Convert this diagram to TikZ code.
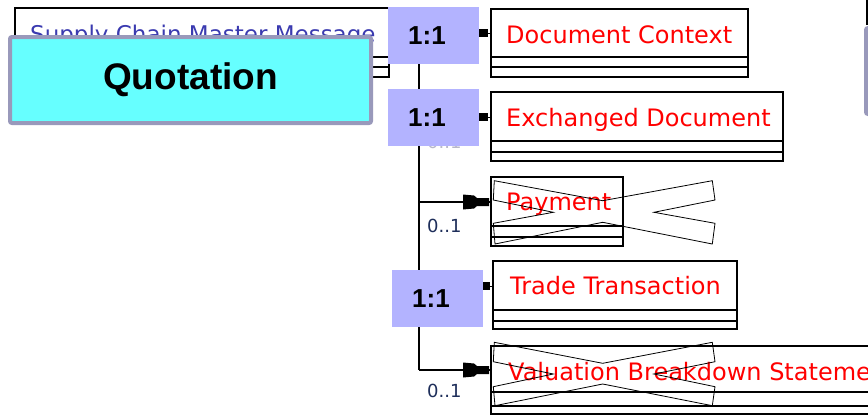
\documentclass[tikz,border=0pt]{standalone}
\usepackage{fontspec}
\newfontfamily\umlfont{DejaVu Sans}
\newfontfamily\arfont{Liberation Sans}
\definecolor{qcyan}{HTML}{66FFFF}
\definecolor{qborder}{HTML}{9999BB}
\definecolor{ratio}{HTML}{B3B3FF}
\definecolor{navyt}{HTML}{3A3AB0}
\definecolor{multc}{HTML}{1E2E5A}
\definecolor{qgreen}{HTML}{92D050}
\definecolor{fadet}{HTML}{B8B8C8}
\begin{document}
\begin{tikzpicture}[x=1pt,y=-1pt,
  cls/.style={draw=black, line width=1.8pt, fill=white, anchor=north west, inner sep=0pt, outer sep=0pt},
  clstext/.style={anchor=base west, inner sep=0pt, font=\umlfont\fontsize{24}{28}\selectfont, text=red},
  ratiobox/.style={fill=ratio, anchor=north west, inner ysep=0pt, inner xsep=20pt, text width=51pt, align=left, minimum height=57pt, font=\arfont\bfseries\fontsize{26}{30}\selectfont},
  multlab/.style={anchor=base west, inner sep=0pt, font=\umlfont\fontsize{18}{20}\selectfont, text=multc},
  wire/.style={line width=2pt},
  xmark/.style={draw=black, line width=0.8pt},
  stubtip/.style={fill=black},
  comp/.style={line width=1.8pt}]
\useasboundingbox (0,0) rectangle (868,415);
\clip (0,0) rectangle (868,415);

% right-hand clipped elements
\draw[line width=1.5pt] (867,-2) -- (867,25);
\node[draw=qborder, line width=4pt, fill=qgreen, rounded corners=2pt, anchor=north west, minimum width=60pt, minimum height=86pt, inner sep=0pt] (qr) at (864,26) {};

% Supply Chain Master Message class
\node[cls, minimum width=374pt, minimum height=69pt] (scmm) at (15,8) {};
\draw[comp] ([yshift=20pt]scmm.south west) -- ([yshift=20pt]scmm.south east);
\draw[comp] ([yshift=10pt]scmm.south west) -- ([yshift=10pt]scmm.south east);
\node[clstext, text=navyt, font=\umlfont\fontsize{23}{27}\selectfont] (scmmt) at (30,42.5) {Supply Chain Master Message};

% child classes
\node[cls, minimum width=257pt, minimum height=68pt] (dc) at (491,9) {};
\draw[comp] ([yshift=20pt]dc.south west) -- ([yshift=20pt]dc.south east);
\draw[comp] ([yshift=10pt]dc.south west) -- ([yshift=10pt]dc.south east);
\node[clstext] (dct) at (506,43) {Document Context};

\node[cls, minimum width=292pt, minimum height=69pt] (ed) at (491,92) {};
\draw[comp] ([yshift=20pt]ed.south west) -- ([yshift=20pt]ed.south east);
\draw[comp] ([yshift=9pt]ed.south west) -- ([yshift=9pt]ed.south east);
\node[clstext] (edt) at (506,126) {Exchanged Document};

\node[cls, minimum width=132pt, minimum height=69pt] (pay) at (491,177) {};
\draw[comp] ([yshift=20pt]pay.south west) -- ([yshift=20pt]pay.south east);
\draw[comp] ([yshift=9pt]pay.south west) -- ([yshift=9pt]pay.south east);
\node[clstext] (payt) at (506,210) {Payment};

\node[cls, minimum width=244pt, minimum height=68pt] (tt) at (493,261) {};
\draw[comp] ([yshift=19pt]tt.south west) -- ([yshift=19pt]tt.south east);
\draw[comp] ([yshift=8pt]tt.south west) -- ([yshift=8pt]tt.south east);
\node[clstext] (ttt) at (510,294) {Trade Transaction};

\node[cls, minimum width=420pt, minimum height=68pt] (vbs) at (491,346) {};
\draw[comp] ([yshift=22pt]vbs.south west) -- ([yshift=22pt]vbs.south east);
\draw[comp] ([yshift=8pt]vbs.south west) -- ([yshift=8pt]vbs.south east);
\node[clstext] (vbst) at (508,380) {Valuation Breakdown Statement};

% crosses over removed classes
\draw[xmark] (494.3,180.7) -- (602.7,200.7) -- (712.3,180.7) -- (715,200) -- (654,212.3) -- (715,223.3) -- (712.3,244) -- (602.7,222.3) -- (495,244) -- (493.3,223.3) -- (553.3,212.3) -- (493.3,200) -- cycle;
\draw[xmark] (494.3,342.3) -- (602.7,363.3) -- (712.3,342.3) -- (715,361.7) -- (654,374) -- (715,386.7) -- (712.3,405.7) -- (602.7,384) -- (495,405.7) -- (493.3,386.7) -- (553.3,374) -- (493.3,361.7) -- cycle;

% connectors
\coordinate (trtop) at (419,50);
\coordinate (trbot) at (419,370);
\coordinate (dcin) at (491,33);
\coordinate (edin) at (491,117);
\coordinate (payin) at (491,202);
\coordinate (ttin) at (493,286);
\coordinate (vbsin) at (491,370);
\draw[wire] (trtop) -- (trbot);
\draw[line width=1pt] (trtop |- dcin) -- (dcin);
\draw[line width=1pt] (trtop |- edin) -- (edin);
\draw[line width=1pt] (trtop |- ttin) -- (ttin);
\draw[wire] (trtop |- payin) -- (payin);
\draw[wire] (trtop |- vbsin) -- (vbsin);
\fill[stubtip] ([xshift=-13pt,yshift=4.5pt]dcin) rectangle ([xshift=-3pt,yshift=-4pt]dcin);
\fill[stubtip] ([xshift=-13pt,yshift=4.5pt]edin) rectangle ([xshift=-3pt,yshift=-4pt]edin);
\fill[stubtip] ([xshift=-13pt,yshift=4.5pt]ttin) rectangle ([xshift=-3pt,yshift=-4pt]ttin);
\fill[stubtip] ([xshift=-28pt,yshift=7.5pt]payin) -- ([xshift=-17pt,yshift=6.5pt]payin) -- ([xshift=-14pt,yshift=4pt]payin) -- ([xshift=-2pt,yshift=4pt]payin) -- ([xshift=-2pt,yshift=-4pt]payin) -- ([xshift=-14pt,yshift=-4pt]payin) -- ([xshift=-17pt,yshift=-6.5pt]payin) -- ([xshift=-28pt,yshift=-7.5pt]payin) -- cycle;
\fill[stubtip] ([xshift=-28pt,yshift=7.5pt]vbsin) -- ([xshift=-17pt,yshift=6.5pt]vbsin) -- ([xshift=-14pt,yshift=4pt]vbsin) -- ([xshift=-2pt,yshift=4pt]vbsin) -- ([xshift=-2pt,yshift=-4pt]vbsin) -- ([xshift=-14pt,yshift=-4pt]vbsin) -- ([xshift=-17pt,yshift=-6.5pt]vbsin) -- ([xshift=-28pt,yshift=-7.5pt]vbsin) -- cycle;

% multiplicities
\node[multlab, text=fadet] (m0) at (427,148.5) {0..1};
\node[multlab] (m1) at (427,232) {0..1};
\node[multlab] (m2) at (427,397) {0..1};

% Quotation overlay
\node[draw=qborder, line width=4pt, fill=qcyan, rounded corners=2pt, minimum width=361pt, minimum height=86pt, inner sep=0pt, font=\arfont\bfseries\fontsize{37}{40}\selectfont] (quot) at (190.5,80) {Quotation};

% 1:1 overlays
\node[ratiobox] (r1) at (388,7) {1:1};
\node[ratiobox] (r2) at (388,89) {1:1};
\node[ratiobox] (r3) at (392,270) {1:1};
\end{tikzpicture}
\end{document}
